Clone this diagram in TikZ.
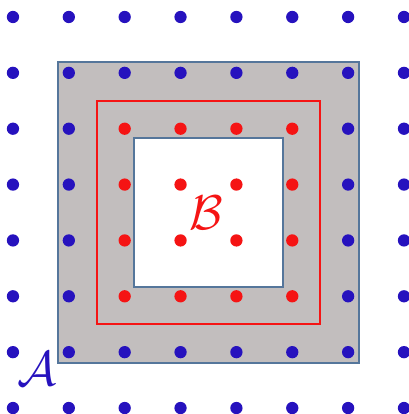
\documentclass[tikz,border=0pt]{standalone}
\usepackage{xcolor}
\definecolor{ptBlue}{RGB}{38,18,190}
\definecolor{ptRed}{RGB}{245,20,20}
\definecolor{ringGray}{RGB}{194,190,190}
\definecolor{edgeSteel}{RGB}{85,118,155}
\usepackage{tikz}
\usetikzlibrary{positioning}

\begin{document}
\begin{tikzpicture}[
  ring/.style={draw=edgeSteel,line width=0.9pt},
  redframe/.style={draw=ptRed,line width=0.9pt},
  bluedot/.style={fill=ptBlue},
  reddot/.style={fill=ptRed},
  setname/.style={inner sep=0pt,font=\fontsize{38}{42}\selectfont}]
  \useasboundingbox (-0.232,-0.107) rectangle (7.072,7.304);
  % grey ring between the two squares
  \fill[ringGray] (0.81,0.81) rectangle (6.19,6.19);
  \draw[ring] (0.81,0.81) rectangle (6.19,6.19);
  \fill[white] (2.17,2.17) rectangle (4.84,4.84);
  \draw[ring] (2.17,2.17) rectangle (4.84,4.84);
  \draw[redframe] (1.5,1.5) rectangle (5.49,5.49);
  % lattice points
  \foreach \i in {0,...,7}
    \foreach \j in {0,...,7}{
      \pgfmathtruncatemacro{\inB}{(\i>1)*(\i<6)*(\j>1)*(\j<6)}
      \ifnum\inB=1
        \fill[reddot] (\i,\j) circle (0.11);
      \else
        \fill[bluedot] (\i,\j) circle (0.11);
      \fi
    }
  \node[setname,text=ptRed] (setB) at (3.46,3.5) {$\mathcal{B}$};
  \node[setname,text=ptBlue] (setA) at (0.43,0.71) {$\mathcal{A}$};
\end{tikzpicture}
\end{document}
